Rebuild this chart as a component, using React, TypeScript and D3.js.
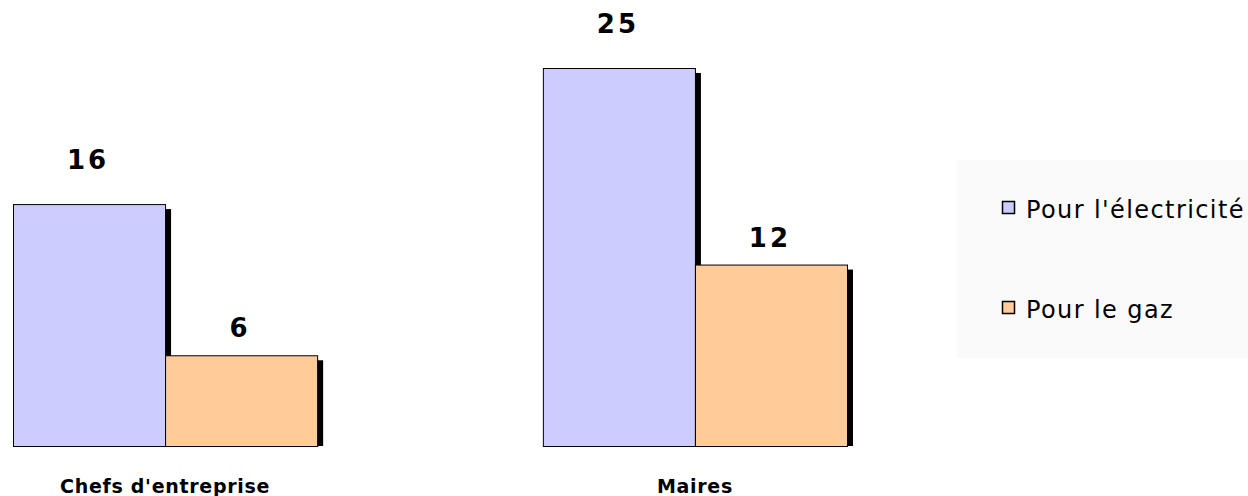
import React, { useEffect, useRef } from 'react';
import * as d3 from 'd3';

const categories = ["Chefs d'entreprise", 'Maires'];
const series = ["Pour l'électricité", 'Pour le gaz'];
const electricite = [16, 25];
const gaz = [6, 12];
const colors = ['#CCCCFF', '#FFCC99'];

const width = 1248;
const height = 496;

export default function App() {
  const ref = useRef<SVGSVGElement>(null);

  useEffect(() => {
    if (!ref.current) return;
    const svg = d3.select(ref.current);
    svg.selectAll('*').remove();

    const values = [electricite, gaz];

    // ------- Scales -------
    const x0 = d3.scaleBand<string>().domain(categories).range([13, 847]).paddingInner(0.426).paddingOuter(0);
    const x1 = d3.scaleBand<string>().domain(series).range([0, x0.bandwidth()]).padding(0);
    const y = d3.scaleLinear().domain([0, 25]).range([446, 68]);

    const labelGap = [35, 18];

    // ------- Bars -------
    categories.forEach((cat, ci) => {
      const g = svg.append('g').attr('transform', `translate(${x0(cat)},0)`);
      series.forEach((s, si) => {
        const v = values[si][ci];
        const bx = x1(s)!;
        const bw = x1.bandwidth();
        const top = y(v);
        const h = y(0) - top;
        // shadow
        g.append('rect')
          .attr('x', bx + 6)
          .attr('y', top + 5)
          .attr('width', bw)
          .attr('height', h - 5)
          .attr('fill', '#000');
        g.append('rect')
          .attr('x', bx + 0.5)
          .attr('y', top + 0.5)
          .attr('width', bw)
          .attr('height', h)
          .attr('fill', colors[si])
          .attr('stroke', '#000')
          .attr('stroke-width', 1);
      });
      series.forEach((s, si) => {
        const v = values[si][ci];
        g.append('text')
          .attr('x', x1(s)! + x1.bandwidth() / 2 - 1)
          .attr('y', y(v) - labelGap[si])
          .attr('text-anchor', 'middle')
          .attr('font-family', 'DejaVu Sans')
          .attr('font-weight', 'bold')
          .attr('font-size', 26)
          .attr('letter-spacing', 3)
          .attr('fill', '#000')
          .text(v);
      });
      // category label
      svg.append('text')
        .attr('x', x0(cat)! + x0.bandwidth() / 2)
        .attr('y', 493)
        .attr('text-anchor', 'middle')
        .attr('font-family', 'DejaVu Sans')
        .attr('font-weight', 'bold')
        .attr('font-size', 19)
        .attr('letter-spacing', 0.7)
        .attr('fill', '#000')
        .text(cat);
    });

    // ------- Legend -------
    const legend = svg.append('g');
    legend.append('rect')
      .attr('x', 957)
      .attr('y', 160)
      .attr('width', width - 957)
      .attr('height', 198)
      .attr('fill', '#fafafa');

    const ly = d3.scalePoint<string>().domain(series).range([208, 308]);
    series.forEach((s, si) => {
      legend.append('rect')
        .attr('x', 1002.5)
        .attr('y', ly(s)! - 6.5)
        .attr('width', 12)
        .attr('height', 12)
        .attr('fill', colors[si])
        .attr('stroke', '#000')
        .attr('stroke-width', 1.5);
      legend.append('text')
        .attr('x', 1026)
        .attr('y', ly(s)! + 10)
        .attr('font-family', 'DejaVu Sans')
        .attr('font-size', 24)
        .attr('letter-spacing', 1.4)
        .attr('fill', '#000')
        .text(s);
    });
  }, []);

  return (
    <svg
      ref={ref}
      width={width}
      height={height}
      style={{ position: 'absolute', left: 0, top: 0, background: '#fff' }}
    />
  );
}
